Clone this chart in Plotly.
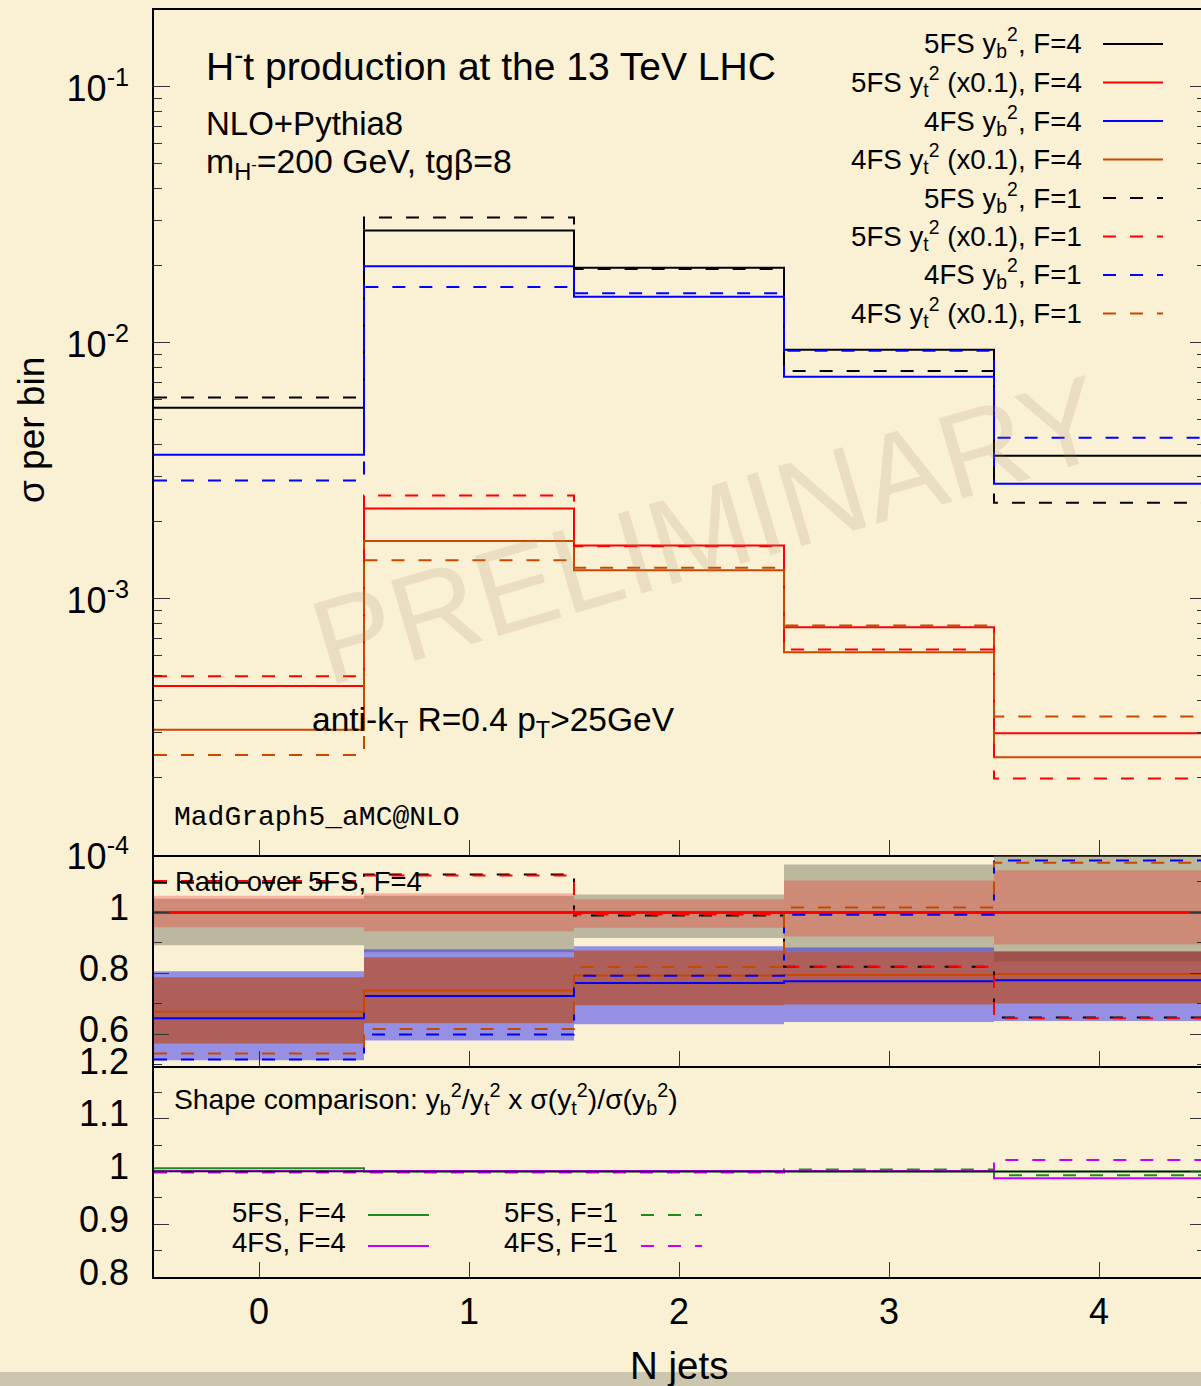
import plotly.graph_objects as go

# ---------------- data ----------------
n_jets = [0, 1, 2, 3, 4]
bin_edges = [-0.5, 0.5, 1.5, 2.5, 3.5, 4.5]

# sigma per bin (the yt^2 samples are scaled by 0.1)
s5_yb_F4 = [5.56e-3, 2.74e-2, 1.96e-2, 9.37e-3, 3.61e-3]
s5_yt_F4 = [4.55e-4, 2.25e-3, 1.61e-3, 7.73e-4, 2.98e-4]
s4_yb_F4 = [3.65e-3, 1.99e-2, 1.51e-2, 7.35e-3, 2.81e-3]
s4_yt_F4 = [3.07e-4, 1.68e-3, 1.29e-3, 6.17e-4, 2.40e-4]
s5_yb_F1 = [6.10e-3, 3.08e-2, 1.94e-2, 7.75e-3, 2.37e-3]
s5_yt_F1 = [4.97e-4, 2.53e-3, 1.60e-3, 6.32e-4, 1.98e-4]
s4_yb_F1 = [2.89e-3, 1.65e-2, 1.56e-2, 9.29e-3, 4.25e-3]
s4_yt_F1 = [2.45e-4, 1.41e-3, 1.32e-3, 7.84e-4, 3.46e-4]

# ratio over 5FS, F=4
r5_yb_F4 = [1.0, 1.0, 1.0, 1.0, 1.0]
r5_yt_F4 = [1.0, 1.0, 1.0, 1.0, 1.0]
r4_yb_F4 = [0.653, 0.726, 0.768, 0.774, 0.777]
r4_yt_F4 = [0.674, 0.744, 0.793, 0.795, 0.798]
r5_yb_F1 = [1.097, 1.124, 0.990, 0.822, 0.655]
r5_yt_F1 = [1.103, 1.121, 0.993, 0.822, 0.653]
r4_yb_F1 = [0.517, 0.599, 0.792, 0.992, 1.170]
r4_yt_F1 = [0.537, 0.617, 0.821, 1.016, 1.163]

# scale-variation bands of the F=4 samples (ratio units)
band5_yb_lo = [0.892, 0.869, 0.916, 0.872, 0.839]
band5_yb_hi = [1.045, 1.055, 1.059, 1.157, 1.187]
band5_yt_lo = [0.951, 0.938, 0.950, 0.921, 0.895]
band5_yt_hi = [1.055, 1.063, 1.043, 1.105, 1.138]
band4_yb_lo = [0.515, 0.580, 0.633, 0.640, 0.644]
band4_yb_hi = [0.807, 0.879, 0.889, 0.885, 0.872]
band4_yt_lo = [0.570, 0.636, 0.695, 0.698, 0.701]
band4_yt_hi = [0.787, 0.853, 0.875, 0.872, 0.872]

# shape comparison yb^2/yt^2 x sigma(yt^2)/sigma(yb^2)
shape_ref = [1.0, 1.0, 1.0, 1.0, 1.0]
shape5_F4 = [1.006, 1.000, 1.000, 1.000, 1.000]
shape4_F4 = [1.001, 1.001, 1.001, 1.001, 0.987]
shape5_F1 = [1.000, 0.999, 0.999, 1.004, 0.993]
shape4_F1 = [0.998, 0.998, 0.998, 1.001, 1.022]

# ---------------- styling ----------------
W, H = 1201, 1386
ML, MR, MT, MB = 154, 0, 10, 109
PW, PH = W - ML - MR, H - MT - MB
FONT = "Liberation Sans, Arial, Helvetica, sans-serif"
MONO = "Liberation Mono, Courier New, monospace"
BG = "#faf1d4"

BLACK, RED, BLUE, ORANGE = "#000000", "#ff0000", "#0000ff", "#c84800"
GREEN, MAGENTA = "#1f8a1f", "#c400ff"
DASH = "13px,14px"

X_RANGE = [-0.5, -0.5 + PW / 210.0]
Y1_RANGE = [-4.0, -0.7004]
Y2_RANGE = [0.496, 1.19]
Y3_RANGE = [0.8, 1.2]

# panel boundaries in page pixels
P1_BOTTOM, P2_BOTTOM = 854.5, 1066.0


def px(xp):
    return (xp - ML) / PW


def py(yp):
    return (H - MB - yp) / PH


def step(vals):
    return bin_edges, list(vals) + [vals[-1]]


fig = go.Figure()


def add_line(vals, color, dashed, xa, ya, width=2.0):
    xs, ys = step(vals)
    fig.add_trace(go.Scatter(
        x=xs, y=ys, mode="lines", xaxis=xa, yaxis=ya,
        line=dict(shape="hv", color=color, width=width,
                  dash=DASH if dashed else "solid"),
        hoverinfo="skip", showlegend=False))


def add_band(lo, hi, fillcolor, xa, ya):
    xs, ylo = step(lo)
    _, yhi = step(hi)
    fig.add_trace(go.Scatter(
        x=xs, y=ylo, mode="lines", xaxis=xa, yaxis=ya,
        line=dict(shape="hv", width=0, color="rgba(0,0,0,0)"),
        hoverinfo="skip", showlegend=False))
    fig.add_trace(go.Scatter(
        x=xs, y=yhi, mode="lines", xaxis=xa, yaxis=ya, fill="tonexty",
        fillcolor=fillcolor,
        line=dict(shape="hv", width=0, color="rgba(0,0,0,0)"),
        hoverinfo="skip", showlegend=False))


# ---- main panel ----
top_series = [
    (s5_yb_F4, BLACK, False), (s5_yt_F4, RED, False),
    (s4_yb_F4, BLUE, False), (s4_yt_F4, ORANGE, False),
    (s5_yb_F1, BLACK, True), (s5_yt_F1, RED, True),
    (s4_yb_F1, BLUE, True), (s4_yt_F1, ORANGE, True),
]
for vals, col, dashed in top_series:
    add_line(vals, col, dashed, "x", "y")

# ---- ratio panel ----
add_band(band5_yb_lo, band5_yb_hi, "rgba(120,120,100,0.47)", "x2", "y2")
add_band(band5_yt_lo, band5_yt_hi, "rgba(255,0,0,0.25)", "x2", "y2")
add_band(band4_yb_lo, band4_yb_hi, "rgba(0,0,255,0.40)", "x2", "y2")
add_band(band4_yt_lo, band4_yt_hi, "rgba(191,63,0,0.61)", "x2", "y2")
ratio_series = [
    (r5_yb_F4, BLACK, False), (r5_yt_F4, RED, False),
    (r4_yb_F4, BLUE, False), (r4_yt_F4, ORANGE, False),
    (r5_yb_F1, BLACK, True), (r5_yt_F1, RED, True),
    (r4_yb_F1, BLUE, True), (r4_yt_F1, ORANGE, True),
]
for vals, col, dashed in ratio_series:
    add_line(vals, col, dashed, "x2", "y2")

# ---- shape panel ----
shape_series = [
    (shape5_F4, GREEN, False), (shape4_F4, MAGENTA, False),
    (shape5_F1, GREEN, True), (shape4_F1, MAGENTA, True),
]
for vals, col, dashed in shape_series:
    add_line(vals, col, dashed, "x3", "y3")
add_line(shape_ref, BLACK, False, "x3", "y3", width=1.3)

# empty traces so that the right-hand tick axes get a subplot
for ya, xa in (("y4", "x"), ("y5", "x2"), ("y6", "x3")):
    fig.add_trace(go.Scatter(x=[], y=[], xaxis=xa, yaxis=ya,
                             showlegend=False, hoverinfo="skip"))

# ---------------- axes ----------------
tickfont = dict(family=FONT, size=36, color="black")
d1 = py(P1_BOTTOM)
d2 = py(P2_BOTTOM)

xcommon = dict(range=X_RANGE, showline=True, linecolor="black", linewidth=1.5,
               ticks="inside", ticklen=15, tickwidth=1.2, automargin=False,
               tickcolor="#333333", tickvals=n_jets, showgrid=False,
               zeroline=False, tickfont=tickfont)

log_minor = [m * 10.0 ** e for e in range(-4, 0) for m in range(2, 10)]
decades = [1e-4, 1e-3, 1e-2, 1e-1]
decade_text = ["10<sup>-4</sup>", "10<sup>-3</sup>", "10<sup>-2</sup>", "10<sup>-1</sup>"]

ycommon = dict(showline=True, linecolor="black", linewidth=1.5, mirror=False,
               ticks="inside", tickwidth=1.2, tickcolor="#333333",
               showgrid=False, zeroline=False, tickfont=tickfont,
               ticklabelstandoff=16, tickmode="array", automargin=False)

fig.update_layout(
    xaxis=dict(xcommon, anchor="y", domain=[0, 1], mirror=True,
               showticklabels=False),
    xaxis2=dict(xcommon, anchor="y2", domain=[0, 1], mirror=False,
                showticklabels=False),
    xaxis3=dict(xcommon, anchor="y3", domain=[0, 1], mirror=False,
                showticklabels=True, ticklabelstandoff=2),
    yaxis=dict(ycommon, type="log", range=Y1_RANGE, domain=[d1, 1], anchor="x",
               ticklen=16, tickvals=decades, ticktext=decade_text,
               ticklabelshift=2,
               minor=dict(tickmode="array", tickvals=log_minor, ticks="inside",
                          ticklen=8, tickcolor="#333333", showgrid=False)),
    yaxis2=dict(ycommon, range=Y2_RANGE, domain=[d2, d1], anchor="x2",
                ticklen=15, tickvals=[0.6, 0.8, 1.0], ticktext=["0.6", "0.8", "1"],
                ticklabelshift=-5,
                minor=dict(tickmode="array", tickvals=[0.5, 0.7, 0.9, 1.1],
                           ticks="inside", ticklen=8, tickcolor="#333333",
                           showgrid=False)),
    yaxis3=dict(ycommon, range=Y3_RANGE, domain=[0, d2], anchor="x3",
                ticklen=15, tickvals=[0.8, 0.9, 1.0, 1.1, 1.2],
                ticktext=["0.8", "0.9", "1", "1.1", "1.2"],
                ticklabelshift=-5,
                minor=dict(tickmode="array", tickvals=[0.85, 0.95, 1.05, 1.15],
                           ticks="inside", ticklen=8, tickcolor="#333333",
                           showgrid=False)),
)

# right-hand tick marks
rcommon = dict(side="right", showline=False, showgrid=False, zeroline=False,
               ticks="inside", ticklen=11, tickwidth=1.2, tickcolor="#333333",
               showticklabels=False, tickmode="array", automargin=False)
fig.update_layout(
    yaxis4=dict(rcommon, overlaying="y", anchor="x", type="log", range=Y1_RANGE,
                tickvals=decades,
                minor=dict(tickmode="array", tickvals=log_minor, ticks="inside",
                           ticklen=4, tickcolor="#333333", showgrid=False)),
    yaxis5=dict(rcommon, overlaying="y2", anchor="x2", range=Y2_RANGE,
                tickvals=[0.6, 0.8, 1.0],
                minor=dict(tickmode="array", tickvals=[0.5, 0.7, 0.9, 1.1],
                           ticks="inside", ticklen=4, tickcolor="#333333",
                           showgrid=False)),
    yaxis6=dict(rcommon, overlaying="y3", anchor="x3", range=Y3_RANGE,
                tickvals=[0.8, 0.9, 1.0, 1.1, 1.2],
                minor=dict(tickmode="array", tickvals=[0.85, 0.95, 1.05, 1.15],
                           ticks="inside", ticklen=4, tickcolor="#333333",
                           showgrid=False)),
)

# ---------------- text ----------------
annotations = []


def text(s, xp, yp, size, xanchor="left", family=FONT, color="black", angle=0):
    annotations.append(dict(
        text=s, x=px(xp), y=py(yp), xref="paper", yref="paper",
        xanchor=xanchor, yanchor="middle", showarrow=False, textangle=angle,
        font=dict(family=family, size=size, color=color)))


text("PRELIMINARY", 708, 530, 121, xanchor="center",
     color="rgba(170,140,100,0.19)", angle=-16.5)
text("H<sup>-</sup>t production at the 13 TeV LHC", 204, 63, 39)
text("NLO+Pythia8", 204, 123, 33)
text("m<sub>H<sup>-</sup></sub>=200 GeV, tgβ=8", 204, 163, 33.8)
text("anti-k<sub>T</sub> R=0.4 p<sub>T</sub>>25GeV", 310, 722, 33.5)
text("MadGraph5_aMC@NLO", 172, 817, 28, family=MONO)
text("Ratio over 5FS, F=4", 173, 882, 27.5)
text("Shape comparison: y<sub>b</sub><sup>2</sup>/y<sub>t</sub><sup>2</sup> x "
     "σ(y<sub>t</sub><sup>2</sup>)/σ(y<sub>b</sub><sup>2</sup>)", 172, 1099, 28.3)
text("σ per bin", 31, 430, 37, xanchor="center", angle=-90)
text("N jets", 679, 1365, 38.5, xanchor="center")

# key of the main panel
shapes = []
top_key = [
    ("5FS y<sub>b</sub><sup>2</sup>, F=4", BLACK, False),
    ("5FS y<sub>t</sub><sup>2</sup> (x0.1), F=4", RED, False),
    ("4FS y<sub>b</sub><sup>2</sup>, F=4", BLUE, False),
    ("4FS y<sub>t</sub><sup>2</sup> (x0.1), F=4", ORANGE, False),
    ("5FS y<sub>b</sub><sup>2</sup>, F=1", BLACK, True),
    ("5FS y<sub>t</sub><sup>2</sup> (x0.1), F=1", RED, True),
    ("4FS y<sub>b</sub><sup>2</sup>, F=1", BLUE, True),
    ("4FS y<sub>t</sub><sup>2</sup> (x0.1), F=1", ORANGE, True),
]
for i, (label, col, dashed) in enumerate(top_key):
    yk = 44.0 + 38.5 * i
    text(label, 1084, yk - 1, 27.7, xanchor="right")
    shapes.append(dict(type="line", xref="paper", yref="paper",
                       x0=px(1103), x1=px(1163), y0=py(yk), y1=py(yk),
                       line=dict(color=col, width=2, dash=DASH if dashed else "solid")))

# key of the shape panel
bottom_key = [
    ("5FS, F=4", GREEN, False, 348, 368, 1212, 1215),
    ("4FS, F=4", MAGENTA, False, 348, 368, 1242, 1246),
    ("5FS, F=1", GREEN, True, 620, 641, 1212, 1215),
    ("4FS, F=1", MAGENTA, True, 620, 641, 1242, 1246),
]
for label, col, dashed, xt, xl, yt, yl in bottom_key:
    text(label, xt, yt, 27.5, xanchor="right")
    shapes.append(dict(type="line", xref="paper", yref="paper",
                       x0=px(xl), x1=px(xl + 61), y0=py(yl), y1=py(yl),
                       line=dict(color=col, width=2, dash=DASH if dashed else "solid")))

# grey strip along the lower edge of the page
shapes.append(dict(type="rect", xref="paper", yref="paper", layer="below",
                   x0=px(0), x1=px(W), y0=py(1372), y1=py(H + 2),
                   fillcolor="#cdc6ae", line=dict(width=0)))

fig.update_layout(
    width=W, height=H, autosize=False,
    margin=dict(l=ML, r=MR, t=MT, b=MB, pad=0, autoexpand=False),
    paper_bgcolor=BG, plot_bgcolor=BG,
    font=dict(family=FONT, color="black"),
    showlegend=False,
    annotations=annotations, shapes=shapes,
)

fig.write_html("out.html")
